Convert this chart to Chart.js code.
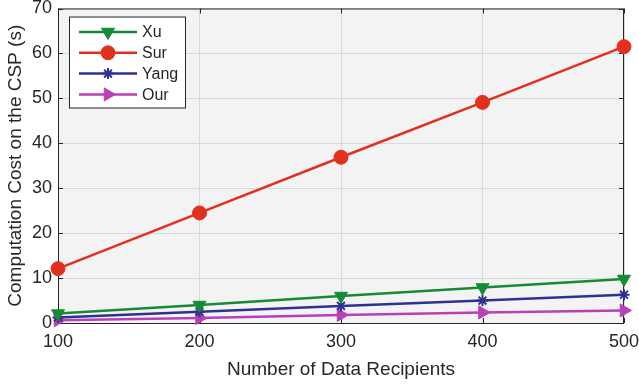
<!DOCTYPE html>
<html lang="en">
<head>
  <meta charset="UTF-8">
  <title>Computation Cost on the CSP</title>
  <script src="https://cdn.jsdelivr.net/npm/chart.js"></script>
  <style>
    body { margin: 0; background: #fff; }
    #wrap { width: 639px; height: 385px; }
  </style>
</head>
<body>
  <div id="wrap"><canvas id="chart" width="639" height="385"></canvas></div>
  <script>
    // data
    const recipients = [100, 200, 300, 400, 500];
    const xuCost = [2.1, 4.0, 6.0, 7.9, 9.8];
    const surCost = [12.1, 24.5, 36.9, 49.1, 61.5];
    const yangCost = [1.25, 2.5, 3.8, 5.0, 6.3];
    const ourCost = [0.6, 1.1, 1.8, 2.35, 2.8];
    const xTicks = [100, 200, 300, 400, 500];
    const yTicks = [0, 10, 20, 30, 40, 50, 60, 70];

    const FONT = "'Liberation Sans', Arial, sans-serif";

    function pts(ys) {
      return recipients.map((x, i) => ({ x: x, y: ys[i] }));
    }

    function series(label, ys, color, style, rot, r) {
      return {
        label: label,
        data: pts(ys),
        borderColor: color,
        backgroundColor: color,
        borderWidth: 2.5,
        pointStyle: style,
        pointRotation: rot,
        pointRadius: r,
        pointBorderWidth: style === 'star' ? 2 : 1,
        pointBorderColor: color,
        pointBackgroundColor: color,
        tension: 0,
        clip: false
      };
    }

    // matlab-like frame: grey plot box, inward ticks, legend with line + marker
    const matlabFrame = {
      id: 'matlabFrame',
      beforeDraw(chart) {
        const { ctx, chartArea: a } = chart;
        ctx.save();
        ctx.fillStyle = '#f3f3f3';
        ctx.fillRect(a.left, a.top, a.right - a.left, a.bottom - a.top);
        ctx.restore();
      },
      beforeDatasetsDraw(chart) {
        // axes box and inward ticks, under the lines like in the original
        const { ctx, chartArea: a, scales } = chart;
        ctx.save();
        ctx.strokeStyle = '#262626';
        ctx.lineWidth = 1;
        ctx.strokeRect(a.left + 0.5, a.top + 0.5, a.right - a.left - 1, a.bottom - a.top);
        const t = 5;
        ctx.beginPath();
        xTicks.forEach(v => {
          const px = Math.round(scales.x.getPixelForValue(v)) + 0.5;
          ctx.moveTo(px, a.bottom); ctx.lineTo(px, a.bottom - t);
          ctx.moveTo(px, a.top); ctx.lineTo(px, a.top + t);
        });
        yTicks.forEach(v => {
          const py = Math.round(scales.y.getPixelForValue(v)) + 0.5;
          ctx.moveTo(a.left, py); ctx.lineTo(a.left + t, py);
          ctx.moveTo(a.right, py); ctx.lineTo(a.right - t, py);
        });
        ctx.stroke();
        ctx.restore();
      },
      afterDraw(chart) {
        const { ctx, chartArea: a } = chart;
        ctx.save();
        // legend box
        const lx = a.left + 11, ly = a.top + 8, lw = 116, lh = 91;
        ctx.fillStyle = '#ffffff';
        ctx.fillRect(lx, ly, lw, lh);
        ctx.strokeStyle = '#262626';
        ctx.lineWidth = 1;
        ctx.strokeRect(lx + 0.5, ly + 0.5, lw, lh);
        ctx.font = '16px ' + FONT;
        ctx.textBaseline = 'middle';
        chart.data.datasets.forEach((ds, i) => {
          const cy = ly + 15.5 + i * 20.8;
          ctx.strokeStyle = ds.borderColor;
          ctx.lineWidth = 2.5;
          ctx.beginPath();
          ctx.moveTo(lx + 10, cy); ctx.lineTo(lx + 68, cy);
          ctx.stroke();
          ctx.fillStyle = ds.borderColor;
          ctx.lineWidth = ds.pointBorderWidth;
          Chart.helpers.drawPoint(ctx, {
            pointStyle: ds.pointStyle,
            rotation: ds.pointRotation,
            radius: ds.pointRadius,
            borderWidth: ds.pointBorderWidth
          }, lx + 39, cy);
          ctx.fillStyle = '#262626';
          ctx.fillText(ds.label, lx + 73, cy + 1);
        });
        ctx.restore();
      }
    };

    new Chart(document.getElementById('chart'), {
      type: 'line',
      data: {
        datasets: [
          series('Xu', xuCost, '#178a35', 'triangle', 180, 7.5),
          series('Sur', surCost, '#e2301f', 'circle', 0, 7),
          series('Yang', yangCost, '#2e3192', 'star', 0, 5.5),
          series('Our', ourCost, '#b940b9', 'triangle', 90, 7.5)
        ]
      },
      options: {
        responsive: false,
        animation: false,
        layout: { padding: { top: 8, right: 15, left: 0, bottom: 0 } },
        plugins: {
          legend: { display: false },
          tooltip: { enabled: false }
        },
        scales: {
          x: {
            type: 'linear',
            min: 100,
            max: 500,
            afterBuildTicks: s => { s.ticks = xTicks.map(v => ({ value: v })); },
            afterFit: s => { s.height = 62; s.paddingLeft = 0; s.paddingRight = 0; },
            grid: { color: '#d9d9d9', drawTicks: false, lineWidth: 1 },
            border: { display: false },
            ticks: { color: '#262626', font: { family: FONT, size: 18 }, padding: 8, maxRotation: 0 },
            title: { display: true, text: 'Number of Data Recipients', color: '#262626', font: { family: FONT, size: 19 }, padding: { top: 0 } }
          },
          y: {
            min: 0,
            max: 70,
            afterBuildTicks: s => { s.ticks = yTicks.map(v => ({ value: v })); },
            afterFit: s => { s.width = 58; s.paddingTop = 0; s.paddingBottom = 0; },
            grid: { color: '#d9d9d9', drawTicks: false, lineWidth: 1 },
            border: { display: false },
            ticks: { color: '#262626', font: { family: FONT, size: 18 }, padding: 6 },
            title: { display: true, text: 'Computation Cost on the CSP (s)', color: '#262626', font: { family: FONT, size: 19 }, padding: { top: 4, bottom: 0 } }
          }
        }
      },
      plugins: [matlabFrame]
    });
  </script>
</body>
</html>
